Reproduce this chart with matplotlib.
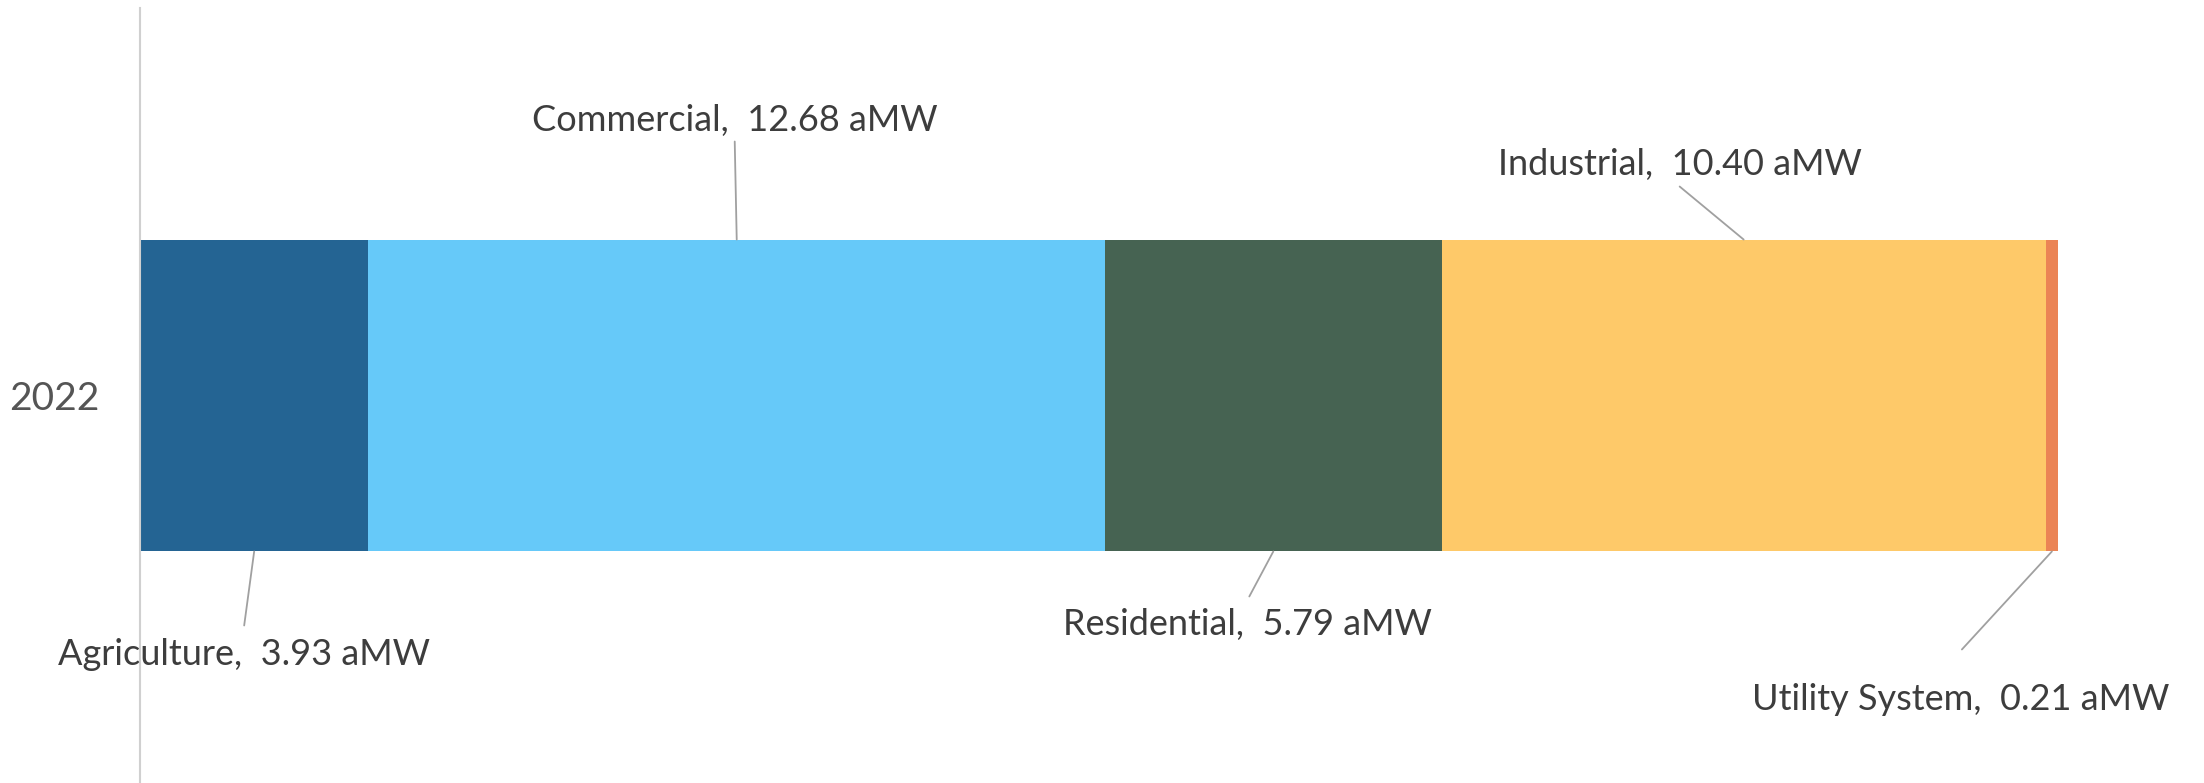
import matplotlib
matplotlib.use("Agg")
import matplotlib.pyplot as plt

# data
year = "2022"
sectors = ["Agriculture", "Commercial", "Residential", "Industrial", "Utility System"]
values = [3.93, 12.68, 5.79, 10.40, 0.21]
unit = "aMW"

colors = ["#246493", "#66C9F9", "#466352", "#FEC969", "#EB8455"]

# label layout: (side, leader end dx, leader end dy, text dx, text baseline dy) in pixels
label_layout = [
    ("bottom", -10, -74, -10, -114),
    ("top", -2, 98, -2, 109),
    ("bottom", -24, -45, -26, -84),
    ("top", -64, 53, -64, 65),
    ("bottom", -90, -98, -91, -159),
]

plt.rcParams['font.family'] = ['Lato', 'DejaVu Sans']

fig = plt.figure(figsize=(22.04, 7.83), dpi=100)
ax = fig.add_axes([140 / 2204, 0, (2058 - 140) / 2204, 1 - 8 / 783])

total = sum(values)
bar_h = 0.805
left = 0
for i in range(len(values)):
    ax.barh(0, values[i], left=left, height=bar_h, color=colors[i], linewidth=0)
    cx = left + values[i] / 2
    side, lx, ly, tx, ty = label_layout[i]
    cy = bar_h / 2 if side == "top" else -bar_h / 2
    # leader line
    ax.annotate('', xy=(cx, cy), xytext=(lx, ly), textcoords='offset pixels',
                arrowprops=dict(arrowstyle='-', color='#a0a0a0', lw=1.3,
                                shrinkA=0, shrinkB=0))
    ax.annotate(f"{sectors[i]},  {values[i]:.2f} {unit}", xy=(cx, cy),
                xytext=(tx, ty), textcoords='offset pixels',
                ha='center', va='baseline', fontsize=26, color='#3d3d3d')
    left += values[i]

ax.set_xlim(0, total)
ax.set_ylim(-1, 1)

ax.set_yticks([0])
ax.set_yticklabels([year], fontsize=28, color='#555555')
ax.tick_params(axis='y', length=0, pad=29)
ax.set_xticks([])

for s in ['top', 'right', 'bottom']:
    ax.spines[s].set_visible(False)
ax.spines['left'].set_color('#d0d0d0')
ax.spines['left'].set_linewidth(1.5)

fig.savefig("out.png", dpi=100, facecolor='white')
